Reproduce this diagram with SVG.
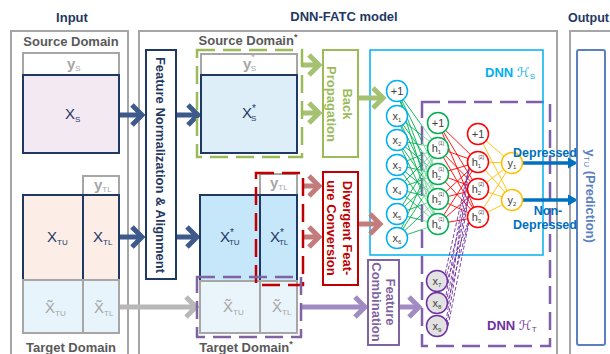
<svg xmlns="http://www.w3.org/2000/svg" width="610" height="354" viewBox="0 0 610 354">
<style>
text{font-family:"Liberation Sans",Arial,sans-serif}
.ttl{font-size:13px;font-weight:bold;fill:#1F3864;text-anchor:middle}
.dom{font-size:13px;font-weight:bold;fill:#595959;text-anchor:middle}
.frame{fill:none;stroke:#A6A6A6;stroke-width:2}
.mat{stroke:#1F3864;stroke-width:2}
.gmat{stroke:#A6A6A6;stroke-width:2}
.mx{font-size:15px;fill:#1F3864}
.gx{font-size:15px;fill:#A6A6A6}
.gy{font-size:15px;font-weight:bold;fill:#A6A6A6}
.sb{font-size:8px}
.st{font-size:10px}
.vt{font-size:13px;font-weight:bold;text-anchor:middle}
.proc{fill:#fff;stroke-width:2}
.dash{fill:none;stroke-width:2.5;stroke-dasharray:18 8}
.nd{fill:#fff;stroke-width:1.5}
.nl{font-size:11px;fill:#404040;text-anchor:middle}
.ns{font-size:6px}
.np{font-size:5px}
.shaft{fill:none;stroke-width:5}
.lk{fill:none;stroke-width:0.9}
.out{font-size:12.5px;font-weight:bold;fill:#0070C0;text-anchor:middle}
</style>
<defs>
  <path id="chev" d="M-10,-10 L0,0 L-10,10" fill="none" stroke-width="5" stroke-linejoin="miter"/>
  <linearGradient id="gLink" gradientUnits="userSpaceOnUse" x1="397" y1="0" x2="438" y2="0">
    <stop offset="0" stop-color="#00B050"/>
    <stop offset="0.6" stop-color="#00B050"/>
    <stop offset="0.63" stop-color="#74D39E"/>
    <stop offset="1" stop-color="#74D39E"/>
  </linearGradient>
</defs>

<!-- section frames and titles -->
<g id="frame-input">
  <rect class="frame" x="11" y="31" width="117" height="340"/>
  <text class="ttl" x="72" y="22">Input</text>
</g>
<g id="frame-model">
  <rect class="frame" x="139" y="31" width="418" height="340"/>
  <text class="ttl" x="344" y="21">DNN-FATC model</text>
</g>
<g id="frame-output">
  <rect class="frame" x="570" y="31" width="60" height="340"/>
  <text class="ttl" x="568" y="22" style="text-anchor:start;font-size:12.5px">Output</text>
</g>

<!-- network containers -->
<g id="dnn-t">
  <rect x="422" y="102" width="128" height="244" fill="#F3F3F6" stroke="#7F60A8" class="dash"/>
  <text x="487" y="330" font-size="13" font-weight="bold" fill="#7030A0">DNN <tspan font-family="DejaVu Sans" font-weight="normal" font-style="italic">ℋ</tspan><tspan class="sb" dy="2" font-weight="normal">T</tspan></text>
</g>
<g id="dnn-s">
  <rect x="370" y="50" width="173" height="205" fill="none" stroke="#00B0F0" stroke-width="1.5"/>
  <text x="485" y="77" font-size="13" font-weight="bold" fill="#00B0F0">DNN <tspan font-family="DejaVu Sans" font-weight="normal" font-style="italic">ℋ</tspan><tspan class="sb" dy="2" font-weight="normal">S</tspan></text>
</g>

<!-- connectors -->
<g id="connectors">
  <!-- navy: inputs to normalization, normalization to aligned domains -->
  <g stroke="#3D5A8A">
    <path class="shaft" d="M119 115H142M119 237H142M176 115H198M176 237H197"/>
    <use href="#chev" x="142" y="115"/>
    <use href="#chev" x="142" y="237"/>
    <use href="#chev" x="198" y="115"/>
    <use href="#chev" x="197" y="237"/>
  </g>
  <!-- gray: unlabeled target features -->
  <g stroke="#B8B8B8">
    <path class="shaft" d="M119 307H196"/>
    <use href="#chev" x="196" y="307"/>
  </g>
  <!-- green: back propagation path -->
  <g stroke="#A5C273">
    <path class="shaft" d="M302 65H319M302 113H319M358 98H383"/>
    <use href="#chev" x="319" y="65"/>
    <use href="#chev" x="319" y="113"/>
    <use href="#chev" x="383" y="98"/>
  </g>
  <!-- rose: divergent feature conversion path -->
  <g stroke="#C27C7C">
    <path class="shaft" d="M303 186H319M303 237H319M358 224H380"/>
    <use href="#chev" x="319" y="186"/>
    <use href="#chev" x="319" y="237"/>
    <use href="#chev" x="380" y="224"/>
  </g>
  <!-- purple: feature combination path -->
  <g stroke="#A08CC2">
    <path class="shaft" d="M301 307H365M399 307H419"/>
    <use href="#chev" x="365" y="307"/>
    <use href="#chev" x="419" y="307"/>
  </g>
  <!-- network links -->
  <path class="lk" stroke="url(#gLink)" d="M397 91L438 148M397 91L438 174M397 91L438 199M397 91L438 224M397 116L438 148M397 116L438 174M397 116L438 199M397 116L438 224M397 140L438 148M397 140L438 174M397 140L438 199M397 140L438 224M397 165L438 148M397 165L438 174M397 165L438 199M397 165L438 224M397 189L438 148M397 189L438 174M397 189L438 199M397 189L438 224M397 214L438 148M397 214L438 174M397 214L438 199M397 214L438 224M397 238L438 148M397 238L438 174M397 238L438 199M397 238L438 224"/>
  <path class="lk" stroke="#FF0000" d="M438 123L478 162M438 123L478 189M438 123L478 217M438 148L478 162M438 148L478 189M438 148L478 217M438 174L478 162M438 174L478 189M438 174L478 217M438 199L478 162M438 199L478 189M438 199L478 217M438 224L478 162M438 224L478 189M438 224L478 217"/>
  <path class="lk" stroke="#FFC000" d="M478 134L512 163M478 134L512 200M478 162L512 163M478 162L512 200M478 189L512 163M478 189L512 200M478 217L512 163M478 217L512 200"/>
  <path class="lk" stroke="#7030A0" stroke-width="1.2" stroke-dasharray="4 2" d="M444 279L470 162M445 281L470 189M446 283L470 217M445 301L470 162M446 303L470 189M447 305L470 217M446 322L470 164M447 324L470 189M448 326L470 217"/>
  <!-- predictions -->
  <g fill="#0070C0">
    <path d="M522 163H569M522 200H569" stroke="#0070C0" stroke-width="3.5"/>
    <polygon points="568,157.5 578,163 568,168.5"/>
    <polygon points="568,194.5 578,200 568,205.5"/>
  </g>
</g>

<!-- input data -->
<g id="source-domain">
  <text class="dom" x="71" y="46">Source Domain</text>
  <rect class="gmat" x="23" y="53" width="96" height="22" fill="#fff"/>
  <text class="gy" x="67" y="69">y<tspan class="sb" dy="2" font-weight="normal">S</tspan></text>
  <rect class="mat" x="23" y="75" width="96" height="78" fill="#F2E9F3"/>
  <text class="mx" x="65" y="119">X<tspan class="sb" dy="3">S</tspan></text>
</g>
<g id="target-domain">
  <rect class="gmat" x="83" y="176" width="36" height="19" fill="#fff"/>
  <text class="gy" x="94" y="190">y<tspan class="sb" dy="2" font-weight="normal">TL</tspan></text>
  <rect class="mat" x="23" y="195" width="60" height="85" fill="#FCEEE7"/>
  <rect class="mat" x="83" y="195" width="36" height="85" fill="#FCEEE7"/>
  <text class="mx" x="47" y="242">X<tspan class="sb" dy="3">TU</tspan></text>
  <text class="mx" x="93" y="242">X<tspan class="sb" dy="3">TL</tspan></text>
  <rect class="gmat" x="23" y="280" width="60" height="53" fill="#E7F4FB"/>
  <rect class="gmat" x="83" y="280" width="36" height="53" fill="#E7F4FB"/>
  <text class="gx" x="45" y="313">X̃<tspan class="sb" dy="3">TU</tspan></text>
  <text class="gx" x="94" y="313">X̃<tspan class="sb" dy="3">TL</tspan></text>
  <text class="dom" x="71" y="352">Target Domain</text>
</g>

<g id="normalization">
  <rect class="proc" x="146" y="50" width="30" height="229" stroke="#1F3864"/>
  <text class="vt" fill="#1F3864" transform="translate(161,165) rotate(90)" y="4.6">Feature Normalization &amp; Alignment</text>
</g>

<!-- aligned domains -->
<g id="source-domain-aligned">
  <text class="dom" x="248" y="45">Source Domain<tspan font-size="9" dy="-5">*</tspan></text>
  <rect class="gmat" x="201" y="54" width="96" height="21" fill="#fff"/>
  <text class="gy" x="243" y="69">y<tspan font-size="9" font-weight="normal" dy="-9">*</tspan><tspan class="sb" font-weight="normal" dx="-4" dy="11">S</tspan></text>
  <rect class="mat" x="201" y="75" width="96" height="78" fill="#DDEEF9"/>
  <text class="mx" x="242" y="118">X<tspan class="st" dy="-6">*</tspan><tspan class="sb" dx="-5" dy="9">S</tspan></text>
  <rect class="dash" x="197" y="50" width="105" height="107" stroke="#9BBB59"/>
</g>
<g id="target-domain-aligned">
  <rect class="gmat" x="260" y="174" width="37" height="21" fill="#fff"/>
  <text class="gy" x="270" y="188">y<tspan class="sb" dy="2" font-weight="normal">TL</tspan></text>
  <rect class="mat" x="200" y="195" width="60" height="86" fill="#C6E7F9"/>
  <rect class="mat" x="260" y="195" width="37" height="86" fill="#C6E7F9"/>
  <text class="mx" x="220" y="242">X<tspan class="st" dy="-6">*</tspan><tspan class="sb" dx="-5" dy="9">TU</tspan></text>
  <text class="mx" x="270" y="242">X<tspan class="st" dy="-6">*</tspan><tspan class="sb" dx="-5" dy="9">TL</tspan></text>
  <rect class="gmat" x="200" y="281" width="60" height="52" fill="#E9F4FB"/>
  <rect class="gmat" x="260" y="281" width="37" height="52" fill="#E9F4FB"/>
  <text class="gx" x="223" y="312">X̃<tspan class="sb" dy="3">TU</tspan></text>
  <text class="gx" x="272" y="312">X̃<tspan class="sb" dy="3">TL</tspan></text>
  <rect class="dash" x="256" y="173" width="47" height="112" stroke="#C00000" stroke-width="2"/>
  <rect class="dash" x="197" y="277" width="104" height="60" stroke="#8064A2"/>
  <text class="dom" x="246" y="352">Target Domain<tspan font-size="9" dy="-5">*</tspan></text>
</g>

<!-- processing steps -->
<g id="back-propagation">
  <rect class="proc" x="323" y="50" width="35" height="107" stroke="#9BBB59"/>
  <text class="vt" fill="#9BBB59" transform="translate(340,104) rotate(90)"><tspan x="0" y="-3.4">Back</tspan><tspan x="0" y="12.6">Propagation</tspan></text>
</g>
<g id="divergent-conversion">
  <rect class="proc" x="323" y="172" width="35" height="113" stroke="#C00000"/>
  <text class="vt" fill="#C00000" transform="translate(340,228) rotate(90)"><tspan x="0" y="-3.4">Divergent Feat-</tspan><tspan x="0" y="12.6">ure Conversion</tspan></text>
</g>
<g id="feature-combination">
  <rect class="proc" x="368" y="260" width="31" height="85" stroke="#8064A2"/>
  <text class="vt" fill="#8064A2" transform="translate(383.5,302) rotate(90)"><tspan x="0" y="-2.9">Feature</tspan><tspan x="0" y="11.1">Combination</tspan></text>
</g>

<!-- input layer -->
<g stroke="#00B0F0">
  <g id="in-bias"><circle class="nd" cx="397" cy="91" r="10.5"/><text class="nl" stroke="none" x="397" y="95">+1</text></g>
  <g id="in-x1"><circle class="nd" cx="397" cy="116" r="10.5"/><text class="nl" stroke="none" x="397" y="120">x<tspan class="ns" dy="2">1</tspan></text></g>
  <g id="in-x2"><circle class="nd" cx="397" cy="140" r="10.5"/><text class="nl" stroke="none" x="397" y="144">x<tspan class="ns" dy="2">2</tspan></text></g>
  <g id="in-x3"><circle class="nd" cx="397" cy="165" r="10.5"/><text class="nl" stroke="none" x="397" y="169">x<tspan class="ns" dy="2">3</tspan></text></g>
  <g id="in-x4"><circle class="nd" cx="397" cy="189" r="10.5"/><text class="nl" stroke="none" x="397" y="193">x<tspan class="ns" dy="2">4</tspan></text></g>
  <g id="in-x5"><circle class="nd" cx="397" cy="214" r="10.5"/><text class="nl" stroke="none" x="397" y="218">x<tspan class="ns" dy="2">5</tspan></text></g>
  <g id="in-x6"><circle class="nd" cx="397" cy="238" r="10.5"/><text class="nl" stroke="none" x="397" y="242">x<tspan class="ns" dy="2">6</tspan></text></g>
</g>
<!-- hidden layer 1 -->
<g stroke="#00B050">
  <g id="h1-bias"><circle class="nd" cx="438" cy="123" r="10.5"/><text class="nl" stroke="none" x="438" y="127">+1</text></g>
  <g id="h1-1"><circle class="nd" cx="438" cy="148" r="10.5"/><text class="nl" stroke="none" x="438" y="152">h<tspan class="ns" dy="2">1</tspan><tspan class="np" dx="-3" dy="-9">(1)</tspan></text></g>
  <g id="h1-2"><circle class="nd" cx="438" cy="174" r="10.5"/><text class="nl" stroke="none" x="438" y="178">h<tspan class="ns" dy="2">2</tspan><tspan class="np" dx="-3" dy="-9">(1)</tspan></text></g>
  <g id="h1-3"><circle class="nd" cx="438" cy="199" r="10.5"/><text class="nl" stroke="none" x="438" y="203">h<tspan class="ns" dy="2">3</tspan><tspan class="np" dx="-3" dy="-9">(1)</tspan></text></g>
  <g id="h1-4"><circle class="nd" cx="438" cy="224" r="10.5"/><text class="nl" stroke="none" x="438" y="228">h<tspan class="ns" dy="2">4</tspan><tspan class="np" dx="-3" dy="-9">(1)</tspan></text></g>
</g>
<!-- combined target features -->
<g stroke="#7030A0">
  <g id="in-x7"><circle class="nd" style="fill:#E2E2E2" cx="437" cy="281" r="10.5"/><text class="nl" stroke="none" x="437" y="285">x<tspan class="ns" dy="2">7</tspan></text></g>
  <g id="in-x8"><circle class="nd" style="fill:#E2E2E2" cx="437" cy="303" r="10.5"/><text class="nl" stroke="none" x="437" y="307">x<tspan class="ns" dy="2">8</tspan></text></g>
  <g id="in-x9"><circle class="nd" style="fill:#E2E2E2" cx="437" cy="326" r="10.5"/><text class="nl" stroke="none" x="437" y="330">x<tspan class="ns" dy="2">9</tspan></text></g>
</g>
<!-- hidden layer 2 -->
<g stroke="#FF0000">
  <g id="h2-bias"><circle class="nd" cx="478" cy="134" r="10.5"/><text class="nl" stroke="none" x="478" y="138">+1</text></g>
  <g id="h2-1"><circle class="nd" cx="478" cy="162" r="10.5"/><text class="nl" stroke="none" x="478" y="166">h<tspan class="ns" dy="2">1</tspan><tspan class="np" dx="-3" dy="-9">(2)</tspan></text></g>
  <g id="h2-2"><circle class="nd" cx="478" cy="189" r="10.5"/><text class="nl" stroke="none" x="478" y="193">h<tspan class="ns" dy="2">2</tspan><tspan class="np" dx="-3" dy="-9">(2)</tspan></text></g>
  <g id="h2-3"><circle class="nd" cx="478" cy="217" r="10.5"/><text class="nl" stroke="none" x="478" y="221">h<tspan class="ns" dy="2">3</tspan><tspan class="np" dx="-3" dy="-9">(2)</tspan></text></g>
</g>
<!-- output layer -->
<g stroke="#FFC000">
  <g id="out-y1"><circle class="nd" cx="512" cy="163" r="10.5"/><text class="nl" stroke="none" x="512" y="167">y<tspan class="ns" dy="2">1</tspan></text></g>
  <g id="out-y2"><circle class="nd" cx="512" cy="200" r="10.5"/><text class="nl" stroke="none" x="512" y="204">y<tspan class="ns" dy="2">2</tspan></text></g>
</g>

<g id="prediction">
  <rect x="577" y="50" width="28" height="295" rx="2" fill="#fff" stroke="#5B80C0" stroke-width="2"/>
  <text class="vt" fill="#5B80C0" transform="translate(591,196) rotate(90)" y="4.6">y<tspan class="sb" dy="2" font-weight="normal">TU</tspan><tspan dy="-2">  (Prediction)</tspan></text>
</g>

<g id="class-labels">
  <text class="out" x="545" y="157">Depressed</text>
  <text class="out"><tspan x="548" y="215">Non-</tspan><tspan x="545" y="229">Depressed</tspan></text>
</g>
</svg>
